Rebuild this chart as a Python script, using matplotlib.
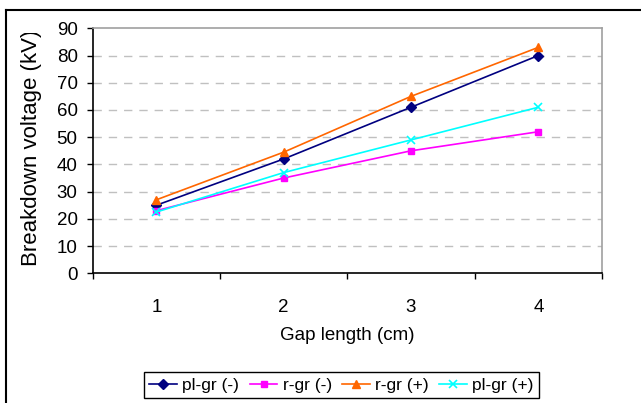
import matplotlib
matplotlib.use("Agg")
import matplotlib.pyplot as plt
from matplotlib.lines import Line2D
from matplotlib.transforms import Bbox

plt.rcParams['font.family'] = ['Liberation Sans', 'DejaVu Sans']

gap_cm = [1, 2, 3, 4]
pl_gr_neg = [25, 42, 61, 80]
r_gr_neg = [23, 35, 45, 52]
r_gr_pos = [27, 44.5, 65, 83]
pl_gr_pos = [22.5, 37, 49, 61]

W, H = 641, 403
fig = plt.figure(figsize=(W / 100, H / 100), dpi=100)
ax = fig.add_axes([92.7 / W, 1 - 273.3 / H, (602 - 92.7) / W, (273.3 - 28.3) / H])

ax.plot(gap_cm, pl_gr_neg, color='#000080', marker='D', ms=5, lw=1.2, label='pl-gr (-)')
ax.plot(gap_cm, r_gr_neg, color='#FF00FF', marker='s', ms=5, lw=1.2, label='r-gr (-)')
ax.plot(gap_cm, r_gr_pos, color='#FF6600', marker='^', ms=6, lw=1.2, label='r-gr (+)')
ax.plot(gap_cm, pl_gr_pos, color='#00FFFF', marker='x', ms=6, mew=1.2, lw=1.2, label='pl-gr (+)')

ax.set_xlim(0.5, 4.5)
ax.set_ylim(0, 90)
ax.set_yticks(range(0, 91, 10))
ax.set_xticks([0.5, 1.5, 2.5, 3.5, 4.5])
ax.set_xticklabels([])
ax.set_xticks(gap_cm, minor=True)
ax.set_xticklabels([str(g) for g in gap_cm], minor=True)
ax.tick_params(axis='x', which='major', direction='out', length=4.3, width=1)
ax.tick_params(axis='x', which='minor', length=0, pad=18.5, labelsize=13.5)
ax.tick_params(axis='y', direction='out', length=4.3, width=1, pad=6.5, labelsize=13.5)

for y in range(10, 90, 10):
    ax.axhline(y, color='#C0C0C0', lw=1, ls=(0, (6, 5)), zorder=0)

ax.spines['left'].set_color('black')
ax.spines['bottom'].set_color('black')
ax.spines['top'].set_color('#A0A0A0')
ax.spines['right'].set_color('#A0A0A0')
for s in ax.spines.values():
    s.set_linewidth(1.2)

fig.text(347 / W, 1 - 335 / H, 'Gap length (cm)', ha='center', va='center', fontsize=13.5)
ylab = fig.text(32 / W, 1 - 266 / H, 'Breakdown voltage (kV)', rotation=90,
                ha='center', va='bottom', fontsize=16)
# the label runs past the chart top in the original, so it is cut off there
ylab.set_clip_box(Bbox.from_extents(0, 0, W, H - 33))
ylab.set_clip_on(True)

leg = fig.legend(loc='center', bbox_to_anchor=(341.5 / W, 1 - 385 / H), ncol=4,
                 fontsize=12.5, frameon=True, fancybox=False, framealpha=1,
                 edgecolor='black', handlelength=1.6, handletextpad=0.3,
                 columnspacing=0.6, borderpad=0.3, borderaxespad=0)
leg.get_frame().set_linewidth(1)

# outer chart frame (top and left edges visible)
fig.add_artist(Line2D([6 / W, 1], [1 - 10 / H, 1 - 10 / H], color='black', lw=1.5))
fig.add_artist(Line2D([6 / W, 6 / W], [0, 1 - 10 / H], color='black', lw=1.5))

fig.savefig('out.png', dpi=100)
